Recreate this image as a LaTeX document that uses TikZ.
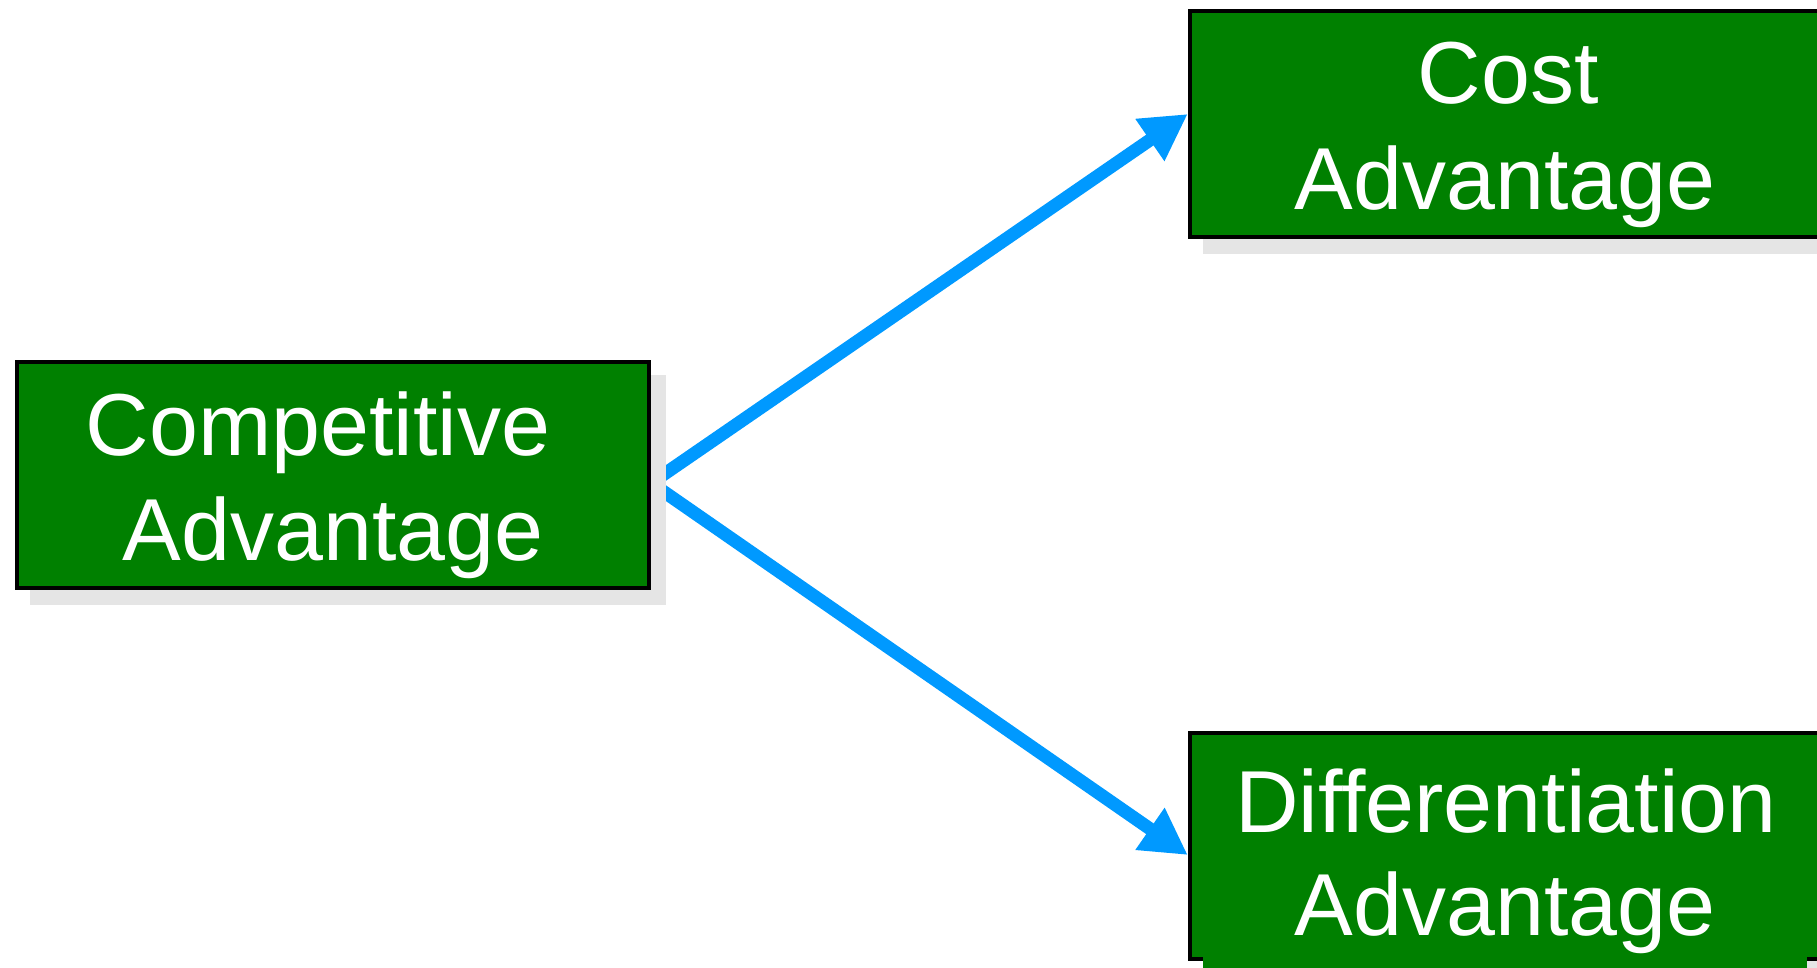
\documentclass[tikz,border=0pt]{standalone}
\usepackage{fontspec}
\setmainfont{Liberation Sans}
\usetikzlibrary{arrows.meta,backgrounds,calc}
\definecolor{boxgreen}{RGB}{0,128,0}
\definecolor{arrowblue}{RGB}{0,153,255}
\definecolor{shadowgray}{RGB}{229,229,229}
\tikzset{
  advbox/.style={rectangle, draw=black, line width=4.5pt, fill=boxgreen,
    minimum width=632pt, minimum height=226pt, inner sep=0pt},
  boxshadow/.style={fill=shadowgray},
  caption/.style={text=white, font=\fontsize{88}{104}\selectfont,
    anchor=base, inner sep=0pt},
  link/.style={draw=arrowblue, line width=13pt,
    -{Triangle[length=46pt,width=48pt]}},
}
\begin{document}
\begin{tikzpicture}[x=1pt,y=-1pt]
  \useasboundingbox (0,0) rectangle (1817,968);

  % boxes
  \node[advbox] (comp) at (333,475) {};
  \node[advbox] (cost) at (1506,124) {};
  \node[advbox] (diff) at (1506,846) {};

  % connectors and shadows sit behind the boxes
  \begin{scope}[on background layer]
    \draw[link] ($(comp.east)+(0,8)$) -- ($(cost.west)+(0,-10)$);
    \draw[link] ($(comp.east)+(0,8)$) -- ($(diff.west)+(0,9)$);
    \fill[boxshadow] ([shift={(15,15)}]comp.north west) rectangle ([shift={(15,15)}]comp.south east);
    \fill[boxshadow] ([shift={(15,15)}]cost.north west) rectangle ([shift={(15,15)}]cost.south east);
    \fill[boxshadow] ([shift={(15,15)}]diff.north west) rectangle ([shift={(15,15)}]diff.south east);
  \end{scope}

  % offset fill over the lower box edge
  \fill[boxgreen] ([shift={(15,15)}]diff.north west) rectangle (1807,975);

  % labels
  \node[caption] (comp1) at (318,455) {Competitive};
  \node[caption] (comp2) at (333,560) {Advantage};
  \node[caption] (cost1) at (1508,104) {Cost};
  \node[caption] (cost2) at (1505,210) {Advantage};
  \node[caption] (diff1) at (1506,832) {Differentiation};
  \node[caption] (diff2) at (1505,935) {Advantage};
\end{tikzpicture}
\end{document}
